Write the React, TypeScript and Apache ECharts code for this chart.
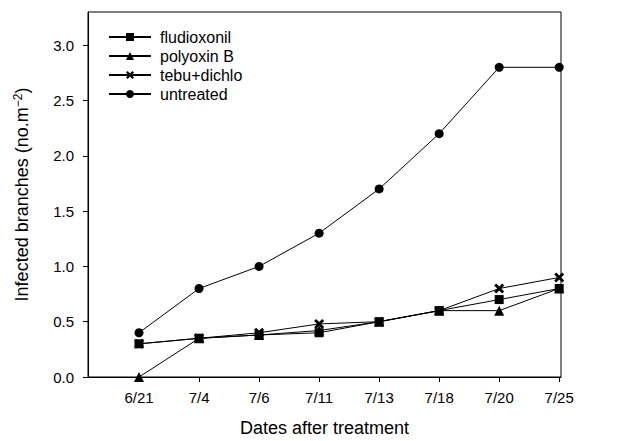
import React, { useEffect, useRef } from "react";
import * as echarts from "echarts";

const dates = ["6/21", "7/4", "7/6", "7/11", "7/13", "7/18", "7/20", "7/25"];
const positions = [1, 2, 3, 4, 5, 6, 7, 8];
const fludioxonil = [0.3, 0.35, 0.38, 0.4, 0.5, 0.6, 0.7, 0.8];
const polyoxinB = [0.0, 0.35, 0.38, 0.42, 0.5, 0.6, 0.6, 0.8];
const tebuDichlo = [0.3, 0.35, 0.4, 0.48, 0.5, 0.6, 0.8, 0.9];
const untreated = [0.4, 0.8, 1.0, 1.3, 1.7, 2.2, 2.8, 2.8];
const yTicks = [0, 0.5, 1.0, 1.5, 2.0, 2.5, 3.0];

const FONT = "'Liberation Sans', Arial, sans-serif";
const X_PATH =
  "path://M0,2 L2,0 L5,3 L8,0 L10,2 L7,5 L10,8 L8,10 L5,7 L2,10 L0,8 L3,5 Z";

export default function App() {
  const ref = useRef<HTMLDivElement>(null);
  useEffect(() => {
    if (!ref.current) return;
    const chart = echarts.init(ref.current, undefined, { renderer: "svg" });
    const mk = (name: string, vals: number[], symbol: string, size: number) => ({
      name,
      type: "line",
      data: vals.map((v, i) => [positions[i], v]),
      symbol,
      symbolSize: size,
      clip: false,
      lineStyle: { color: "#000", width: 1 },
      itemStyle: { color: "#000", borderColor: "#000", borderWidth: 0 },
    });
    chart.setOption({
      animation: false,
      backgroundColor: "#fff",
      textStyle: { fontFamily: FONT },
      grid: {
        left: 88,
        right: 64,
        top: 12,
        bottom: 64,
        containLabel: false,
        outerBoundsMode: "none",
        show: true,
        borderColor: "#000",
        borderWidth: 1,
      },
      legend: {
        orient: "vertical",
        left: 103,
        top: 24,
        itemWidth: 42,
        itemHeight: 10,
        itemGap: 3,
        textStyle: { fontFamily: FONT, fontSize: 16, color: "#000", padding: [0, 0, 0, 4] },
        data: ["fludioxonil", "polyoxin B", "tebu+dichlo", "untreated"],
      },
      xAxis: {
        type: "value",
        min: 0.15,
        max: 8.03,
        name: "Dates after treatment",
        nameLocation: "middle",
        nameGap: 42,
        nameTextStyle: { fontFamily: FONT, fontSize: 18, color: "#000" },
        splitLine: { show: false },
        axisLine: { lineStyle: { color: "#000", width: 1 } },
        axisTick: {
          show: true,
          length: 5,
          lineStyle: { color: "#000" },
          customValues: positions,
        },
        axisLabel: {
          customValues: positions,
          formatter: (v: number) => dates[Math.round(v) - 1] ?? "",
          fontFamily: FONT,
          fontSize: 15,
          color: "#000",
          margin: 13,
        },
      },
      yAxis: {
        type: "value",
        min: 0,
        max: 3.3,
        name: "{a|Infected branches (no.m}{s|−2}{a|)}",
        nameLocation: "middle",
        nameGap: 56,
        nameTextStyle: {
          fontFamily: FONT,
          color: "#000",
          rich: {
            a: { fontFamily: FONT, fontSize: 18, color: "#000" },
            s: { fontFamily: FONT, fontSize: 12, color: "#000", verticalAlign: "top", padding: [0, 0, 8, 0] },
          },
        },
        splitLine: { show: false },
        axisLine: { show: true, lineStyle: { color: "#000", width: 1 } },
        axisTick: {
          show: true,
          length: 5,
          lineStyle: { color: "#000" },
          customValues: yTicks,
        },
        axisLabel: {
          customValues: yTicks,
          formatter: (v: number) => v.toFixed(1),
          fontFamily: FONT,
          fontSize: 15,
          color: "#000",
          margin: 14,
        },
      },
      series: [
        mk("fludioxonil", fludioxonil, "rect", 9),
        mk("polyoxin B", polyoxinB, "triangle", 10),
        mk("tebu+dichlo", tebuDichlo, X_PATH, 10),
        mk("untreated", untreated, "circle", 9),
      ],
    });
    return () => chart.dispose();
  }, []);
  return <div ref={ref} style={{ width: 625, height: 441, position: "absolute", left: 0, top: 0 }} />;
}
